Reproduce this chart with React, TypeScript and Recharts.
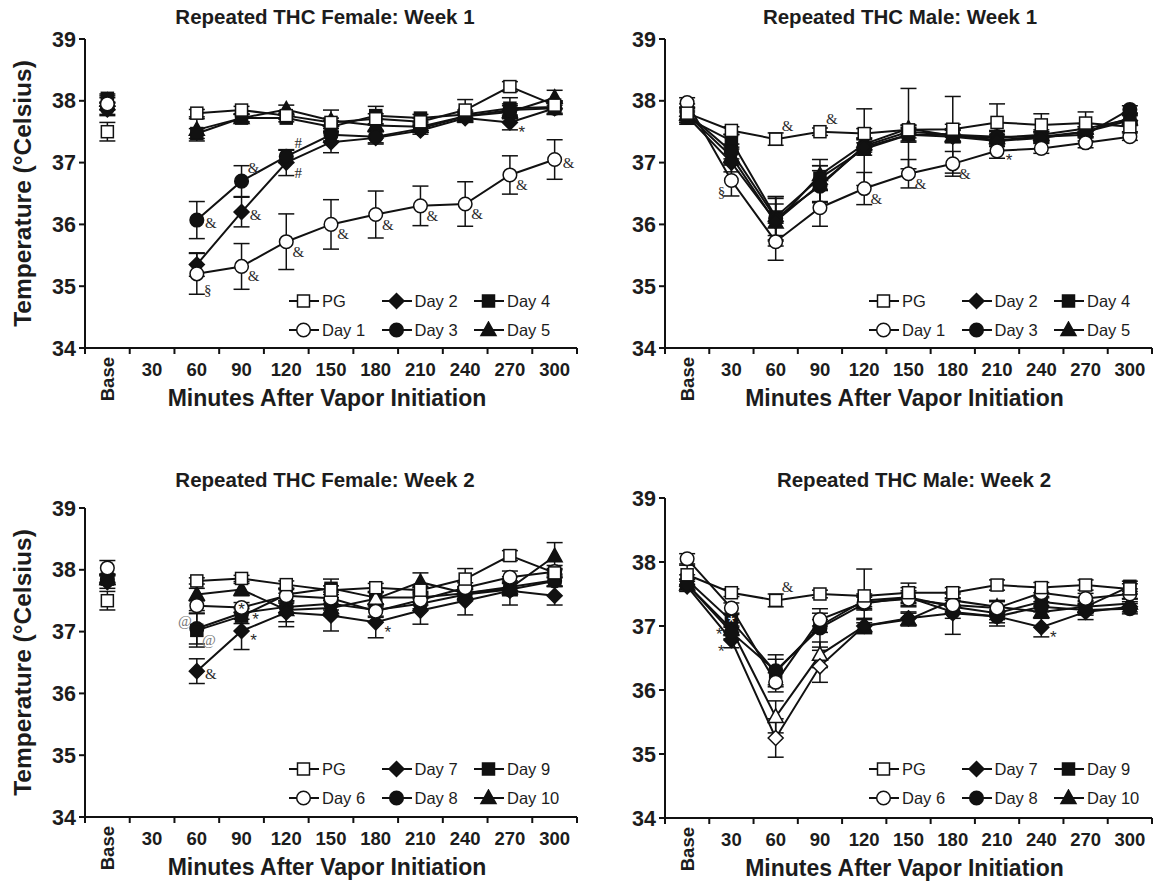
import React from 'react';
import { LineChart, Line, XAxis, YAxis, ErrorBar, Legend, LabelList } from 'recharts';

const FONT = '"Liberation Sans", Arial, Helvetica, sans-serif';
const SERIF = '"Liberation Serif", "Times New Roman", serif';
const INK = '#111';
const TEXT = '#1c1c1c';

const CATEGORIES = ['Base', '30', '60', '90', '120', '150', '180', '210', '240', '270', '300'];
const Y_TICKS = [34, 35, 36, 37, 38, 39];
const X_TITLE = 'Minutes After Vapor Initiation';
const Y_TITLE = 'Temperature (°Celsius)';

// ---------- Female, week 1 ----------
const FW1_PG = [37.5, null, 37.8, 37.85, 37.76, 37.65, 37.71, 37.66, 37.85, 38.23, 37.93];
const FW1_PG_ERR = [0.15, null, 0.06, 0.06, 0.06, 0.07, 0.08, 0.06, 0.17, 0.08, 0.07];
const FW1_D1 = [37.95, null, 35.2, 35.32, 35.72, 36.0, 36.16, 36.3, 36.33, 36.8, 37.05];
const FW1_D1_ERR = [0.1, null, 0.33, 0.37, 0.45, 0.4, 0.38, 0.32, 0.36, 0.31, 0.32];
const FW1_D2 = [37.86, null, 35.35, 36.2, 37.0, 37.33, 37.4, 37.52, 37.72, 37.65, 37.88];
const FW1_D2_ERR = [0.1, null, 0.19, 0.24, 0.21, 0.17, 0.1, 0.06, 0.07, 0.12, 0.1];
const FW1_D3 = [37.88, null, 36.07, 36.7, 37.1, 37.45, 37.42, 37.55, 37.75, 37.85, 37.88];
const FW1_D3_ERR = [0.1, null, 0.3, 0.25, 0.1, 0.1, 0.1, 0.06, 0.07, 0.1, 0.1];
const FW1_D4 = [38.04, null, 37.47, 37.72, 37.72, 37.58, 37.76, 37.72, 37.78, 37.88, 37.9];
const FW1_D4_ERR = [0.07, null, 0.08, 0.06, 0.06, 0.1, 0.15, 0.06, 0.07, 0.17, 0.1];
const FW1_D5 = [38.0, null, 37.53, 37.72, 37.86, 37.68, 37.6, 37.58, 37.75, 37.82, 38.05];
const FW1_D5_ERR = [0.08, null, 0.18, 0.06, 0.07, 0.17, 0.1, 0.06, 0.07, 0.1, 0.12];

// ---------- Male, week 1 ----------
const MW1_PG = [37.8, 37.52, 37.38, 37.5, 37.47, 37.53, 37.54, 37.65, 37.61, 37.64, 37.58];
const MW1_PG_ERR = [0.15, 0.06, 0.1, 0.06, 0.08, 0.08, 0.08, 0.3, 0.18, 0.18, 0.08];
const MW1_D1 = [37.97, 36.71, 35.72, 36.27, 36.58, 36.82, 36.98, 37.19, 37.23, 37.32, 37.42];
const MW1_D1_ERR = [0.08, 0.25, 0.3, 0.3, 0.26, 0.23, 0.2, 0.12, 0.08, 0.08, 0.06];
const MW1_D2 = [37.75, 37.0, 36.05, 36.65, 37.25, 37.45, 37.42, 37.35, 37.4, 37.5, 37.68];
const MW1_D2_ERR = [0.1, 0.15, 0.4, 0.3, 0.62, 0.12, 0.1, 0.08, 0.08, 0.08, 0.08];
const MW1_D3 = [37.8, 37.18, 36.1, 36.62, 37.27, 37.5, 37.45, 37.42, 37.42, 37.45, 37.86];
const MW1_D3_ERR = [0.1, 0.12, 0.35, 0.25, 0.1, 0.1, 0.62, 0.1, 0.08, 0.1, 0.06];
const MW1_D4 = [37.72, 37.35, 36.12, 36.75, 37.22, 37.45, 37.45, 37.36, 37.42, 37.5, 37.72];
const MW1_D4_ERR = [0.1, 0.1, 0.3, 0.2, 0.1, 0.1, 0.1, 0.1, 0.08, 0.08, 0.08];
const MW1_D5 = [37.78, 37.1, 36.03, 36.8, 37.3, 37.55, 37.43, 37.4, 37.45, 37.55, 37.7];
const MW1_D5_ERR = [0.1, 0.12, 0.3, 0.25, 0.1, 0.65, 0.1, 0.1, 0.08, 0.08, 0.08];

// ---------- Female, week 2 ----------
const FW2_PG = [37.5, null, 37.82, 37.86, 37.76, 37.67, 37.71, 37.67, 37.85, 38.23, 37.95];
const FW2_PG_ERR = [0.15, null, 0.05, 0.05, 0.06, 0.07, 0.07, 0.06, 0.17, 0.08, 0.07];
const FW2_D6 = [38.03, null, 37.42, 37.39, 37.58, 37.54, 37.33, 37.51, 37.71, 37.88, 37.97];
const FW2_D6_ERR = [0.12, null, 0.08, 0.08, 0.1, 0.1, 0.1, 0.08, 0.08, 0.1, 0.1];
const FW2_D7 = [37.8, null, 36.36, 37.01, 37.31, 37.26, 37.15, 37.34, 37.5, 37.66, 37.58];
const FW2_D7_ERR = [0.1, null, 0.2, 0.3, 0.15, 0.25, 0.25, 0.22, 0.23, 0.23, 0.15];
const FW2_D8 = [37.84, null, 37.05, 37.3, 37.4, 37.45, 37.35, 37.45, 37.6, 37.68, 37.82];
const FW2_D8_ERR = [0.08, null, 0.25, 0.1, 0.1, 0.1, 0.1, 0.08, 0.08, 0.1, 0.08];
const FW2_D9 = [37.85, null, 37.02, 37.25, 37.6, 37.7, 37.55, 37.55, 37.62, 37.72, 37.83];
const FW2_D9_ERR = [0.08, null, 0.27, 0.12, 0.1, 0.15, 0.1, 0.08, 0.08, 0.1, 0.1];
const FW2_D10 = [37.85, null, 37.6, 37.68, 37.35, 37.38, 37.53, 37.8, 37.62, 37.7, 38.22];
const FW2_D10_ERR = [0.08, null, 0.1, 0.1, 0.27, 0.12, 0.1, 0.15, 0.1, 0.1, 0.22];
const FW2_D10_OPEN = [6];

// ---------- Male, week 2 ----------
const MW2_PG = [37.8, 37.52, 37.4, 37.5, 37.47, 37.52, 37.52, 37.64, 37.6, 37.64, 37.58];
const MW2_PG_ERR = [0.15, 0.06, 0.1, 0.06, 0.42, 0.15, 0.08, 0.08, 0.08, 0.08, 0.08];
const MW2_D6 = [38.05, 37.28, 36.12, 37.1, 37.37, 37.42, 37.33, 37.28, 37.52, 37.43, 37.5];
const MW2_D6_ERR = [0.08, 0.08, 0.15, 0.1, 0.1, 0.1, 0.1, 0.1, 0.08, 0.08, 0.08];
const MW2_D7 = [37.62, 36.78, 35.25, 36.37, 37.0, 37.12, 37.2, 37.15, 36.98, 37.22, 37.3];
const MW2_D7_ERR = [0.08, 0.12, 0.3, 0.25, 0.1, 0.1, 0.33, 0.15, 0.15, 0.12, 0.08];
const MW2_D7_OPEN = [2, 3];
const MW2_D8 = [37.65, 36.9, 36.3, 36.97, 37.35, 37.45, 37.22, 37.15, 37.3, 37.25, 37.27];
const MW2_D8_ERR = [0.08, 0.1, 0.25, 0.3, 0.1, 0.1, 0.1, 0.1, 0.08, 0.08, 0.08];
const MW2_D9 = [37.72, 37.08, 36.28, 37.0, 37.4, 37.45, 37.3, 37.2, 37.38, 37.3, 37.62];
const MW2_D9_ERR = [0.08, 0.1, 0.2, 0.1, 0.1, 0.15, 0.1, 0.1, 0.08, 0.08, 0.08];
const MW2_D10 = [37.65, 36.95, 35.58, 36.55, 37.0, 37.1, 37.4, 37.3, 37.22, 37.3, 37.35];
const MW2_D10_ERR = [0.08, 0.1, 0.25, 0.2, 0.12, 0.1, 0.1, 0.1, 0.1, 0.1, 0.08];
const MW2_D10_OPEN = [2, 3];

// ---------- significance marks ----------
type Note = { s: string; i: number; t: string; at: string };
const FW1_NOTES: Note[] = [
  { s: 'd1', i: 2, t: '§', at: 'below' },
  { s: 'd1', i: 3, t: '&', at: 'lr' }, { s: 'd1', i: 4, t: '&', at: 'lr' },
  { s: 'd1', i: 5, t: '&', at: 'lr' }, { s: 'd1', i: 6, t: '&', at: 'lr' },
  { s: 'd1', i: 7, t: '&', at: 'lr' }, { s: 'd1', i: 8, t: '&', at: 'lr' },
  { s: 'd1', i: 9, t: '&', at: 'lr' }, { s: 'd1', i: 10, t: '&', at: 'r' },
  { s: 'd3', i: 2, t: '&', at: 'r' }, { s: 'd3', i: 3, t: '&', at: 'ur' },
  { s: 'd3', i: 4, t: '#', at: 'ur' },
  { s: 'd2', i: 3, t: '&', at: 'r' }, { s: 'd2', i: 4, t: '#', at: 'lr' },
  { s: 'd2', i: 9, t: '*', at: 'lr' },
];
const MW1_NOTES: Note[] = [
  { s: 'pg', i: 2, t: '&', at: 'ur' }, { s: 'pg', i: 3, t: '&', at: 'ur' },
  { s: 'd1', i: 1, t: '§', at: 'll' },
  { s: 'd1', i: 4, t: '&', at: 'lr' }, { s: 'd1', i: 5, t: '&', at: 'lr' },
  { s: 'd1', i: 6, t: '&', at: 'lr' }, { s: 'd1', i: 7, t: '*', at: 'lr' },
];
const FW2_NOTES: Note[] = [
  { s: 'd7', i: 2, t: '&', at: 'r' }, { s: 'd7', i: 3, t: '*', at: 'lr' },
  { s: 'd9', i: 3, t: '*', at: 'r' }, { s: 'd6', i: 3, t: '*', at: 'c' },
  { s: 'd9', i: 2, t: '@', at: 'ul' }, { s: 'd9', i: 2, t: '@', at: 'lr' },
  { s: 'd7', i: 6, t: '*', at: 'lr' },
];
const MW2_NOTES: Note[] = [
  { s: 'pg', i: 2, t: '&', at: 'ur' },
  { s: 'd8', i: 1, t: '*', at: 'l' }, { s: 'd7', i: 1, t: '*', at: 'll' },
  { s: 'd9', i: 1, t: '*', at: 'cw' },
  { s: 'd7', i: 8, t: '*', at: 'lr' },
];

const NOTE_OFFSET: Record<string, [number, number]> = {
  r: [14, 3], lr: [12, 10], ur: [12, -13], ul: [-12, -9], ll: [-10, 11],
  l: [-12, 2], c: [0, 2], cw: [0, 2], below: [11, 16],
};

type Shape = 'square' | 'circle' | 'diamond' | 'triangle';
type Series = {
  key: string; name: string; shape: Shape; filled: boolean;
  values: (number | null)[]; errors: (number | null)[]; open?: number[];
};

function markerEl(shape: Shape, cx: number, cy: number, fill: string) {
  const common = { fill, stroke: INK, strokeWidth: 1.5 };
  switch (shape) {
    case 'square':
      return <rect x={cx - 6} y={cy - 6} width={12} height={12} {...common} />;
    case 'circle':
      return <circle cx={cx} cy={cy} r={6.8} {...common} />;
    case 'diamond':
      return <polygon points={`${cx},${cy - 7.5} ${cx + 7.5},${cy} ${cx},${cy + 7.5} ${cx - 7.5},${cy}`} {...common} />;
    default:
      return <polygon points={`${cx},${cy - 8} ${cx + 7.5},${cy + 5.5} ${cx - 7.5},${cy + 5.5}`} {...common} />;
  }
}

const week1 = (pg, d1, d2, d3, d4, d5): Series[] => [
  { key: 'pg', name: 'PG', shape: 'square', filled: false, values: pg[0], errors: pg[1] },
  { key: 'd1', name: 'Day 1', shape: 'circle', filled: false, values: d1[0], errors: d1[1] },
  { key: 'd2', name: 'Day 2', shape: 'diamond', filled: true, values: d2[0], errors: d2[1] },
  { key: 'd3', name: 'Day 3', shape: 'circle', filled: true, values: d3[0], errors: d3[1] },
  { key: 'd4', name: 'Day 4', shape: 'square', filled: true, values: d4[0], errors: d4[1] },
  { key: 'd5', name: 'Day 5', shape: 'triangle', filled: true, values: d5[0], errors: d5[1] },
];
const week2 = (pg, d6, d7, d8, d9, d10, open7: number[] = [], open10: number[] = []): Series[] => [
  { key: 'pg', name: 'PG', shape: 'square', filled: false, values: pg[0], errors: pg[1] },
  { key: 'd6', name: 'Day 6', shape: 'circle', filled: false, values: d6[0], errors: d6[1] },
  { key: 'd7', name: 'Day 7', shape: 'diamond', filled: true, values: d7[0], errors: d7[1], open: open7 },
  { key: 'd8', name: 'Day 8', shape: 'circle', filled: true, values: d8[0], errors: d8[1] },
  { key: 'd9', name: 'Day 9', shape: 'square', filled: true, values: d9[0], errors: d9[1] },
  { key: 'd10', name: 'Day 10', shape: 'triangle', filled: true, values: d10[0], errors: d10[1], open: open10 },
];

const PANELS = [
  {
    id: 'fw1', title: 'Repeated THC Female: Week 1', titleX: 325, titleY: 17,
    left: 0, top: 0, width: 600, height: 418, mt: 39, mr: 23, yTitle: true,
    legendLeft: 288, legendTop: 286,
    series: week1([FW1_PG, FW1_PG_ERR], [FW1_D1, FW1_D1_ERR], [FW1_D2, FW1_D2_ERR], [FW1_D3, FW1_D3_ERR], [FW1_D4, FW1_D4_ERR], [FW1_D5, FW1_D5_ERR]),
    drawOrder: ['d5', 'd4', 'd2', 'd3', 'd1', 'pg'], notes: FW1_NOTES,
  },
  {
    id: 'mw1', title: 'Repeated THC Male: Week 1', titleX: 900, titleY: 17,
    left: 580, top: 0, width: 576, height: 418, mt: 39, mr: 4, yTitle: false,
    legendLeft: 288, legendTop: 286,
    series: week1([MW1_PG, MW1_PG_ERR], [MW1_D1, MW1_D1_ERR], [MW1_D2, MW1_D2_ERR], [MW1_D3, MW1_D3_ERR], [MW1_D4, MW1_D4_ERR], [MW1_D5, MW1_D5_ERR]),
    drawOrder: ['d5', 'd4', 'd3', 'd2', 'd1', 'pg'], notes: MW1_NOTES,
  },
  {
    id: 'fw2', title: 'Repeated THC Female: Week 2', titleX: 325, titleY: 480,
    left: 0, top: 470, width: 600, height: 417, mt: 38, mr: 23, yTitle: true,
    legendLeft: 288, legendTop: 284,
    series: week2([FW2_PG, FW2_PG_ERR], [FW2_D6, FW2_D6_ERR], [FW2_D7, FW2_D7_ERR], [FW2_D8, FW2_D8_ERR], [FW2_D9, FW2_D9_ERR], [FW2_D10, FW2_D10_ERR], [], FW2_D10_OPEN),
    drawOrder: ['d8', 'd9', 'd10', 'd7', 'd6', 'pg'], notes: FW2_NOTES,
  },
  {
    id: 'mw2', title: 'Repeated THC Male: Week 2', titleX: 914, titleY: 480,
    left: 580, top: 470, width: 576, height: 418, mt: 28, mr: 4, yTitle: false,
    legendLeft: 288, legendTop: 284,
    series: week2([MW2_PG, MW2_PG_ERR], [MW2_D6, MW2_D6_ERR], [MW2_D7, MW2_D7_ERR], [MW2_D8, MW2_D8_ERR], [MW2_D9, MW2_D9_ERR], [MW2_D10, MW2_D10_ERR], MW2_D7_OPEN, MW2_D10_OPEN),
    drawOrder: ['d10', 'd7', 'd9', 'd8', 'd6', 'pg'], notes: MW2_NOTES,
  },
];

const X_AXIS_H = 70;
const Y_AXIS_W = 85;
const BOUNDS = CATEGORIES.map((_, i) => i - 0.5).concat([CATEGORIES.length - 0.5]);

const XTick = (props: any) => {
  const { x, y, payload, half } = props;
  const idx = Math.round(payload.value + 0.5);
  if (idx < 0 || idx >= CATEGORIES.length) return <g />;
  const label = CATEGORIES[idx];
  const cx = x + half;
  const style = { fontFamily: FONT, fontWeight: 'bold' as const, fontSize: 18.5, fill: TEXT };
  if (idx === 0) {
    const ty = y + 3;
    return (
      <text x={cx} y={ty} transform={`rotate(-90 ${cx} ${ty})`} textAnchor="end" dominantBaseline="central" {...style}>
        {label}
      </text>
    );
  }
  return (
    <text x={cx} y={y + 15} textAnchor="middle" dominantBaseline="central" {...style}>{label}</text>
  );
};

const LegendGrid = ({ series }: { series: Series[] }) => {
  const cols: Series[][] = [];
  for (let c = 0; c < series.length; c += 2) cols.push(series.slice(c, c + 2));
  return (
    <div style={{ display: 'flex' }}>
      {cols.map((col, ci) => (
        <div key={ci} style={{ width: ci < cols.length - 1 ? 92.5 : 'auto' }}>
          {col.map((s) => (
            <div key={s.key} style={{ display: 'flex', alignItems: 'center', height: 29.5 }}>
              <svg width={32} height={18} style={{ display: 'block' }}>
                <line x1={1} y1={9} x2={31} y2={9} stroke={INK} strokeWidth={2} />
                {markerEl(s.shape, 15.5, 9, s.filled ? INK : '#fff')}
              </svg>
              <span style={{ marginLeft: 2, fontSize: 16.5, fontFamily: FONT, color: TEXT, lineHeight: '18px', whiteSpace: 'nowrap' }}>
                {s.name}
              </span>
            </div>
          ))}
        </div>
      ))}
    </div>
  );
};

function Panel({ cfg }: { cfg: any }) {
  const { width, height, mt, mr, series, drawOrder, notes, yTitle } = cfg;
  const data = CATEGORIES.map((c, i) => {
    const row: any = { x: i, cat: c };
    (series as Series[]).forEach((s) => {
      row[s.key] = s.values[i];
      row[s.key + 'E'] = s.errors[i];
    });
    return row;
  });
  const plotW = width - Y_AXIS_W - mr;
  const half = plotW / CATEGORIES.length / 2;
  const byKey: Record<string, Series> = {};
  (series as Series[]).forEach((s) => { byKey[s.key] = s; });

  const makeDot = (s: Series) => (p: any) => {
    const { cx, cy, index, payload } = p;
    const k = `${s.key}-dot-${index}`;
    if (cx == null || cy == null || payload == null || payload[s.key] == null || Number.isNaN(cy)) return <g key={k} />;
    const open = s.open && s.open.includes(index);
    return <g key={k}>{markerEl(s.shape, cx, cy, s.filled && !open ? INK : '#fff')}</g>;
  };

  const makeNote = (s: Series) => (p: any) => {
    const { x, y, index } = p;
    const mine = (notes as Note[]).filter((n) => n.s === s.key && n.i === index);
    if (!mine.length || x == null || y == null) return <g />;
    return (
      <g>
        {mine.map((n, j) => {
          const [dx, dy] = NOTE_OFFSET[n.at];
          const star = n.t === '*';
          const color = n.at === 'cw' ? '#fff' : n.t === '@' ? '#777' : '#2a2a2a';
          return (
            <text key={j} x={x + dx} y={y + dy} textAnchor="middle" dominantBaseline="central"
              fontFamily={star ? FONT : SERIF} fontSize={star ? 17 : 15} fill={color}>
              {n.t}
            </text>
          );
        })}
      </g>
    );
  };

  const yTitleLabel = (p: any) => {
    const vb = p.viewBox || {};
    const cx = vb.x + 22;
    const cy = vb.y + vb.height / 2;
    return (
      <text x={cx} y={cy} transform={`rotate(-90 ${cx} ${cy})`} textAnchor="middle" dominantBaseline="central"
        fontFamily={FONT} fontWeight="bold" fontSize={24.5} fill={TEXT}>
        {Y_TITLE}
      </text>
    );
  };
  const xTitleLabel = (p: any) => {
    const vb = p.viewBox || {};
    const cx = vb.x + vb.width / 2 - 4;
    const cy = vb.y + 50;
    return (
      <text x={cx} y={cy} textAnchor="middle" dominantBaseline="central" fontFamily={FONT} fontWeight="bold" fontSize={23} fill={TEXT}>
        {X_TITLE}
      </text>
    );
  };

  return (
    <LineChart width={width} height={height} data={data} margin={{ top: mt, right: mr, left: 0, bottom: 0 }}>
      <XAxis
        type="number" dataKey="x" domain={[-0.5, CATEGORIES.length - 0.5]} ticks={BOUNDS} interval={0}
        height={X_AXIS_H} tickSize={6} tickMargin={0}
        axisLine={{ stroke: INK, strokeWidth: 2 }} tickLine={{ stroke: INK, strokeWidth: 2 }}
        tick={(tp: any) => <XTick {...tp} half={half} />}
        label={xTitleLabel}
      />
      <YAxis
        type="number" domain={[34, 39]} ticks={Y_TICKS} interval={0} width={Y_AXIS_W}
        tickSize={6} tickMargin={3}
        axisLine={{ stroke: INK, strokeWidth: 2 }} tickLine={{ stroke: INK, strokeWidth: 2 }}
        tick={{ fontFamily: FONT, fontWeight: 'bold', fontSize: 21.5, fill: TEXT }}
        label={yTitle ? yTitleLabel : undefined}
      />
      <Legend layout="vertical" align="center" verticalAlign="middle"
        wrapperStyle={{ left: cfg.legendLeft, top: cfg.legendTop, width: 'auto', lineHeight: 'normal' }}
        content={() => <LegendGrid series={series} />} />
      {(drawOrder as string[]).map((k) => {
        const s = byKey[k];
        return (
          <Line key={k} dataKey={k} name={s.name} type="linear" stroke={INK} strokeWidth={2}
            dot={makeDot(s)} activeDot={false} isAnimationActive={false} connectNulls={false}>
            <ErrorBar dataKey={k + 'E'} direction="y" width={8} stroke={INK} strokeWidth={1.5} />
            <LabelList dataKey={k} content={makeNote(s)} />
          </Line>
        );
      })}
    </LineChart>
  );
}

export default function App() {
  return (
    <div style={{ position: 'absolute', left: 0, top: 0, width: 1156, height: 886, background: '#fff', overflow: 'hidden' }}>
      {PANELS.map((p) => (
        <React.Fragment key={p.id}>
          <div style={{ position: 'absolute', left: p.left, top: p.top, width: p.width, height: p.height }}>
            <Panel cfg={p} />
          </div>
          <div style={{
            position: 'absolute', left: p.titleX - 250, top: p.titleY - 13, width: 500, height: 26,
            textAlign: 'center', fontFamily: FONT, fontWeight: 'bold', fontSize: 20.5, lineHeight: '26px', color: TEXT,
          }}>
            {p.title}
          </div>
        </React.Fragment>
      ))}
    </div>
  );
}
